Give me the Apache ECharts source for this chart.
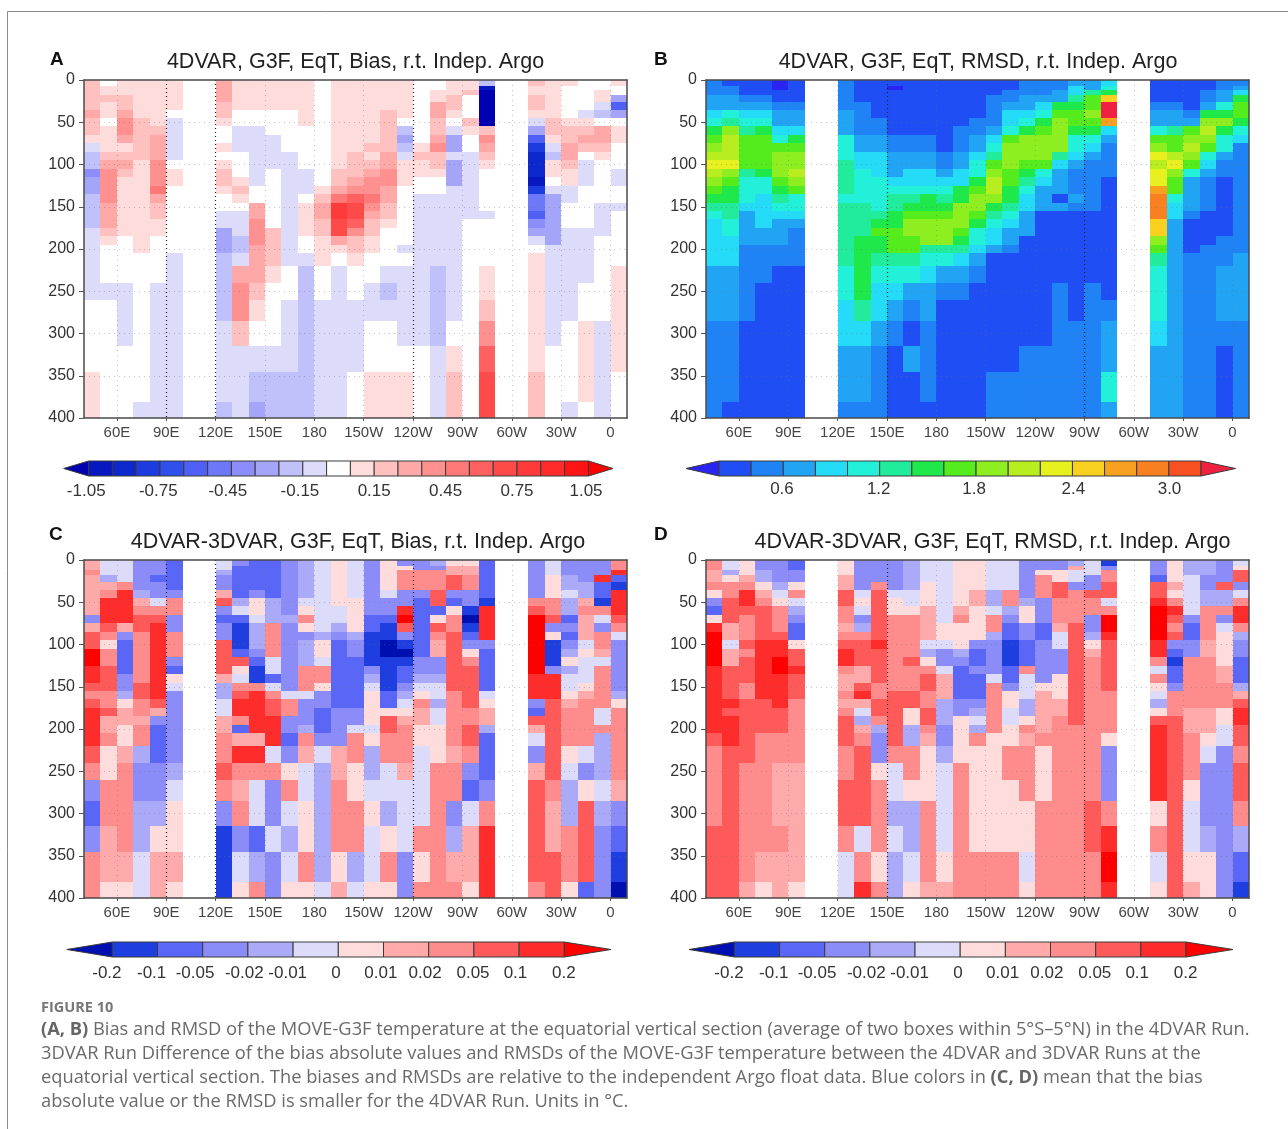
<!DOCTYPE html>
<html><head><meta charset="utf-8">
<style>html,body{margin:0;padding:0;background:#fff}#c{width:1288px;height:1129px}</style>
<script src="https://cdn.jsdelivr.net/npm/echarts@6/dist/echarts.min.js"></script>
</head><body><div id="c"></div>
<script>
// Longitude: 33 cells of 10 degrees from 40E (axis runs 40..370, 360 = 0). Depth cells in metres.
const lonStart = 40, lonStep = 10;
const lonTicks = [60,90,120,150,180,210,240,270,300,330,360];
const lonLabels = ['60E','90E','120E','150E','180','150W','120W','90W','60W','30W','0'];
const depthEdges = [0,7,12,18,26,35,45,55,65,75,85,95,105,115,125,135,145,155,165,175,185,195,205,220,240,260,285,315,346,381,400];

// Each string is one longitude column, top to bottom, one class code per depth cell. "." = no data.
// Panel A: 0 white, 1..9 A B positive classes, a..k negative classes (class x 0.1 degC)
const biasA = [
"22222 3 22 1 a bb d cc bbbb aaa aaa00011",
"0 11 2 11 0 111 2 3 4444 3 33 21 0 00a00000",
"111 22 3 44 3 12 3 2 1111111 00 00aaa000",
"111111 22222 11111111111 0000000a",
"1111111 2 333 444 5 3 22 11 00 00aaaaaa",
"11111 0 aaaaa 0 11 00000000 aaaaaaaa",
"..............................","..............................",
"3333 22 1 00 1 0 12 2 1 00 aa ccc bbbbaaab",
"11111 00 aaa 000 1 2 1 0 aaa bb a3442aaa",
"11111 00 aaaaaaa 00 33 444 3 33210abc",
"11111 000 aaaa 0000000 222 21000abb",
"11111 00000 aaaaaaaaaaaa a00aaabb",
"1111111 00000 aaa 0 1111 00 abbbbbbb",
"00000000000000 12 33 22 11 100aaaaa",
"111111111111 22 3 5 88 77 3 1 0aaaaaaa",
"1111111111 222 3 4 6 77 6 4 22 100aaa00",
"111111111 2 1 2 3 44 5 4 3 22 11 00aa0011",
"11111 22222 33 44 33 22 1 000 0aba0011",
"111111 0 b c b a 111 0000000 a 0aaaa011",
"000000000 121 1 00 aaaaaaa aaaaa000",
"00 11 33 22 3 4 22 1 00 aaaaaaa abbbbaaa",
"111 22 1 0 a cc a ccc aaaaaaaa aaaa0122",
"11 2 000 2 1 00 aaaaaaaa 0000 00000000",
"b j kkkkk 2 4 3 2 1 00000 a 0000 01124677",
"..............................","..............................",
"2 11 22 1 a c f h iii j h eef d c a 0 11111122",
"111111 22 1 a b 11 0 a cccccc a aaaaa000",
"1 00000 1 22 33 2 11 aa 000 aaa aaaa000a",
"00000 a 1 2 3 2 0 aaa 00000 aaa aa001110",
"00 11 a b 0 33 2 1 00000 aaaa 00 0000aaaa",
"1 00 c f c 0 11 000 aa 00 a 00000 01111100"
];
// Panel B: class 0..G, value = 0.1 + 0.2 x class
const rmsdB = [
"2223345789ABA98765444443332222",
"122335 69AAAB 98776655444333 2221",
"111234 5688886555 43333 22222 1111",
"111234 578888 755 4444 33 222 111111",
"0011233 458999 8765 4 33 3 22 1111111",
"111123347899A 9 855 4 3 2222 1111111",
"..............................","..............................",
"222223335556666 5 666666 6 55 44 33 2",
"111122223344555566 6677777 6 4 33 2",
"111111 22 33 444 5555 6 7 8 77 6 5 44 3 222",
"101111 11 22 333 4 5 66 77 888 6 5 4 3 2 111",
"11111111 22 33 44 5 6 7 8 99 88 6 5 3 2 1 3 1 1",
"11111111 22 33 44 5 77 8 999 6 5 4 33 222 1",
"1111111111 22 3 4 5 6 7 8 999 6 5 3 2 11111",
"1111111 222 33 44 77 999 8 7 6 4 3 2 11111",
"111111 22 33 4 55 7 8 99 8 7 55 4 3 2 111111",
"111 2222 3 4 5 6 8 9 AA 9 7 6 5 44 3 111111 22",
"11 22 3 44 5 8 999 88 77 6 5 4 33 2 111111 22",
"222 33 4 5 7 999 8 7 6 5 44 333 1111111 222",
"222 3 4 5 7 8 999 8 5 4 333 1111111111 222",
"22 33 7 8 9999 6 4 333 1 3 1111111 222222",
"3 44 6 7 88 7 55 4 3 222 3 2 111111111 2222",
"33 6 88 9 8 7 5 4 3 222222 1111111 222222",
"4 5 7 C G G D 4 3 2222 111111111111 2 33 5 3",
"..............................","..............................",
"1111 2 33 5 8 9 B A BB D EEE CC 9 8 6 555 4 333",
"1111 2 33 6 88 A B 9 88 5 44 333333333333",
"11111 2 3 8 9 A 9 8 5 3333 2 1111 22222222",
"11 22 3 7 9 A 9 8 5 4 3 2222 1111 222222222",
"22 33 5 7 9 7 55 3 22 1111111 222 333 2 111",
"2 3 4 7 88 7 5 4 2222222222222 3333 2222"
];
// Panels C, D: a..f negative classes (-0.005 .. -0.25), 1..6 positive classes (0.005 .. 0.25)
const diffBiasC = [
"22322222c244665543455554 3 c d c 33",
"aaab23555 4 3 1 33 444 33 4 22 3 11 33 22 1",
"aaaa3 5555 2 c dddd cc b 1 22 1 1 2 3333 2 1",
"ccccc b 2 3 44 333333 44 33 2 3 3 b cc bb aa",
"ccc d cc a 3 4 555555555 4 2 c ddd cc b 1 22",
"ddddd c 33 cc 333 c d 1 a ccccccc b a 11 2 1",
"..............................","..............................",
"aabcc 2 4 c d cc 4444 2 bb aa 22 3 3 4 3 c eee",
"c ddddd b a d eee d 4 1 a 3 4 55 3 d 2 5 3 2 3 c a 1",
"ddddd c 11 a bbb c d ee 3 55555 2 5 3 aa d b 3",
"dddddd bbb 3333 aa d a 3 44 555 a 3 cc a cc",
"cccccccc b cccccccc a 33 cc d c 1 3 a b a 1",
"bbbbbb a 1 3 1 c bbb 333 a ccc b 3 2 aa 11 3 1",
"aaaaaaaaaa b 11 a 33 1 cc ddd c a bbbbb a",
"1111111 aa b c dddddddd cccc 22 333 1 2",
"aaaaaa 1111 b cc dddddd cc a 33 11 33 b a",
"cccccccc dd eeee c b a 1111 a 1 bb a 1 aa 1",
"11111 a cc d ee ff eeee dd 1 44 33 aa b 1 3 1",
"c 1 333 cc 5 6 4 c e f e dd c b a 1 2 333 2 aaa cc",
"cc 333 c ddddddd cc b a 1 3 22 1 1 aaaa 3 1 3",
"b c 333 44 d 1 4 3 22 cc b aa b aa 111 333333",
"1 22 4 4 c d 1 33 4444444 333333 2 33 c b 2 3",
"1 22 33 cc e f e d c 1 3 44444 33 44 3 c d a 22 1",
"dddddd e 5555 c ddddd a 1 22 b ddd c 3 555",
"..............................","..............................",
"cccccc 3 4 6666666 555 c d 4 2 a c 2 4444 3",
"aaa 111 33 4 c 1 eee c 555 44444 44 3 22 44",
"ccc bb a bb d c d c b 1 b aa 1 2 3333 1 a bb 33 1",
"cccc bb 2 3 222 a 1 aaa 1 2 33333 a c 1 444 d",
"ccc 5 dd e 3 a c 33 2 a 33333 aa 3 bbb a b ccc",
"33 5 d e 555 4 3 a cccccc b 1 333333 2 c d e f"
];
const diffRmsdD = [
"33 22 3 1 c d 1 5 6666 55555555 4 3333 444",
"aa b 1 33 444 22 a 22 4444 5 4 55 5 4444444",
"111 2 3 55 4 333 4 3 444 33 444444 3333 3 2",
"cc bb 1 2 3 4444 5555555 4444 333333 2 1",
"cccc b a 1 333 4 55 66 5555 444 33 222 3 22",
"dd cc 1 3 a b c dd 1 44 5 444 333333 22222 1",
"..............................","..............................",
"111 22 44 33 2 3 4 55 3 22 3 2 3 444 33 44 3 aa",
"ccccc a 1 a c b 3 444 22 4 5 2 a b 2 3 4444 a 3 5",
"cccc 3 444444 5 4444 33 44 3 b cc 1 333 1 3",
"ccccc a 11 333333333 444444 3 aa b a bb",
"bbbbb aa 1 33333 4 333 44 11 bb 33 1 bb a 1",
"aaaa 111 2222 a b 1 3 44 33 44 3 2 111 333 2",
"aaaaaaaaa 11 a cc a 222 bbb cc b aaaa 1 2",
"1111111 2 3 111 b c dddd cc 1111 333333",
"11111 22 1111 c dd c ddd c b a b 3 11111 33",
"aaaaa bb a 33 b cccc a 333333 111111 33",
"aaaaa 33 b c dd eee dd c 11 aa 11 33 111 33",
"cccccc b 11 cc ddd 3 aaa bb 1 3 2 333 11 a 1",
"cc 1 333 ccc dd ccccc 1 22222 3 111 3333",
"cc 11 44 333 2 aa ccc 111 22 3333333333",
"b 2 aa c 3333 444444444444 33333 33 33",
"aaa cc 4 33 cc b 1 2 3333333333333 44 33",
"e c 33 44 a 3 66 5 444444 33333 1 ccc 3 5 6 5",
"..............................","..............................",
"ccc d 44 5 6666 55 3 a 3 1 a b 1 4 55555 1 3 a 1",
"1111 2 1 3 5 4 3 4 c d e dd c 333 4444444444",
"bbb aaaaa c dd cc 333333 222 333 1 aa 1 2",
"bbb cc bb 3333 22 333333 222 1 a ccc b 11",
"cccc 4 bb 3 c a 1111 22 333 11 aa ccccccc",
"a 1 44 c a 3 55 3 b cc ddd b 2 4 55 44 3 44 3 b d e"
];

// Colour classes: edges between classes, colours from the colour bars
const edgesA = [-1.05,-0.95,-0.85,-0.75,-0.65,-0.55,-0.45,-0.35,-0.25,-0.15,-0.05,0.05,0.15,0.25,0.35,0.45,0.55,0.65,0.75,0.85,0.95,1.05];
const colorsA = ['#0000b0','#0818c0','#0c28cc','#1c3ce0','#3050ec','#5060f4','#6c78f8','#8c8cfa','#a4a4f8','#c0c0fa','#dcdcfa','#ffffff','#ffdcdc','#ffc0c0','#ffa8a8','#ff9090','#ff7878','#ff6060','#ff4a4a','#ff3a3a','#ff2a2a','#ff1414','#ff0000'];
const edgesB = [0.2,0.4,0.6,0.8,1.0,1.2,1.4,1.6,1.8,2.0,2.2,2.4,2.6,2.8,3.0,3.2];
const colorsB = ['#2a24f0','#1f4ef5','#1f82f5','#22a4f5','#24dcf8','#22f0d8','#20ec9c','#1ee84a','#55ec1e','#8eee20','#b8ee20','#e8f020','#fad020','#f8a020','#f88020','#f85020','#f02040'];
const edgesD = [-0.2,-0.1,-0.05,-0.02,-0.01,0,0.01,0.02,0.05,0.1,0.2];
const colorsD = ['#0010b0','#1f3ee0','#5a66f6','#8c8cf8','#aaaaf8','#dcdcfa','#ffdcdc','#ffaaaa','#ff8c8c','#ff5a5a','#ff2c2c','#ff0000'];

// Colour bar labels: [position along the bar in cells, text]
const cbarTicksA = [[-0.1,'-1.05'],[2.93,'-0.75'],[5.85,'-0.45'],[8.88,'-0.15'],[12,'0.15'],[15,'0.45'],[18,'0.75'],[20.9,'1.05']];
const cbarTicksB = [[1.96,'0.6'],[4.97,'1.2'],[7.94,'1.8'],[11.03,'2.4'],[14.02,'3.0']];
const cbarTicksC = [[-0.12,'-0.2'],[0.87,'-0.1'],[1.83,'-0.05'],[2.92,'-0.02'],[3.88,'-0.01'],[4.95,'0'],[5.94,'0.01'],[6.92,'0.02'],[7.98,'0.05'],[8.92,'0.1'],[9.99,'0.2']];

const titles = ['4DVAR, G3F, EqT, Bias, r.t. Indep. Argo','4DVAR, G3F, EqT, RMSD, r.t. Indep. Argo','4DVAR-3DVAR, G3F, EqT, Bias, r.t. Indep. Argo','4DVAR-3DVAR, G3F, EqT, RMSD, r.t. Indep. Argo'];

function valA(ch){ if(ch==='A')return 1.0; if(ch==='B')return 1.1; const c=ch.charCodeAt(0); return c>=97 ? -(c-96)*0.1 : (c-48)*0.1; }
function valB(ch){ return 0.1+0.2*parseInt(ch,17); }
const diffAbs = {a:0.005,b:0.015,c:0.035,d:0.075,e:0.15,f:0.25};
const diffPos = {'1':0.005,'2':0.015,'3':0.035,'4':0.075,'5':0.15,'6':0.25};
function valD(ch){ return ch in diffAbs ? -diffAbs[ch] : diffPos[ch]; }
function colorOf(v,edges,colors){ let i=0; while(i<edges.length && edges[i]<=v) i++; return colors[i]; }

function cells(cols,decode){
  const out=[];
  cols.forEach((raw,ci)=>{
    const s=raw.replace(/\s/g,'');
    for(let r=0;r<depthEdges.length-1;r++){
      const ch=s[r];
      if(ch===undefined||ch==='.')continue;
      out.push([lonStart+ci*lonStep,lonStart+(ci+1)*lonStep,depthEdges[r],depthEdges[r+1],decode(ch)]);
    }
  });
  return out;
}

const FONT='"Liberation Sans",Arial,sans-serif';
const panels=[
 {d:biasA,dec:valA,e:edgesA,c:colorsA,left:84,top:80,dark:[90,120,240],t:titles[0],tx:355.5,ty:62,
  bar:{tip0:63.7,r0:88.6,r1:588.4,tip1:613,y:461,ticks:cbarTicksA,m:7}},
 {d:rmsdB,dec:valB,e:edgesB,c:colorsB,left:706,top:80,dark:[150,270],t:titles[1],tx:978,ty:62,
  bar:{tip0:686,r0:719,r1:1201,tip1:1235.5,y:461,ticks:cbarTicksB,m:5}},
 {d:diffBiasC,dec:valD,e:edgesD,c:colorsD,left:84,top:560,dark:[90,120,240],t:titles[2],tx:358,ty:542,
  bar:{tip0:66.8,r0:112.3,r1:564.3,tip1:611,y:942,ticks:cbarTicksC,m:8}},
 {d:diffRmsdD,dec:valD,e:edgesD,c:colorsD,left:706,top:560,dark:[150,270],t:titles[3],tx:992.5,ty:542,
  bar:{tip0:689,r0:734.4,r1:1186,tip1:1233,y:942,ticks:cbarTicksC,m:8}}
];

const grid=[],xAxis=[],yAxis=[],series=[],title=[];
const FRAME='#4a4a4a';
panels.forEach((p,i)=>{
  const gi=grid.length;
  grid.push({left:p.left,top:p.top,width:543,height:338,show:false});
  xAxis.push({type:'value',gridIndex:gi,min:40,max:370,z:6,
    axisLine:{show:true,onZero:false,lineStyle:{color:FRAME,width:1.5}},
    axisTick:{show:true,length:3,lineStyle:{color:'#555'},customValues:lonTicks},
    splitLine:{show:false},
    axisLabel:{customValues:lonTicks,color:'#444',fontFamily:'"Liberation Sans Narrow","Liberation Sans",sans-serif',fontSize:15,margin:7,
      formatter:v=>lonLabels[lonTicks.indexOf(v)]}});
  yAxis.push({type:'value',gridIndex:gi,min:0,max:400,interval:50,inverse:true,z:6,
    axisLine:{show:true,onZero:false,lineStyle:{color:FRAME,width:1.5}},
    axisTick:{show:true,length:5,lineStyle:{color:'#555'}},
    splitLine:{show:false},
    axisLabel:{color:'#333',fontFamily:FONT,fontSize:16,margin:9}});
  xAxis.push({type:'value',gridIndex:gi,min:40,max:370,position:'top',z:6,
    axisLine:{show:true,onZero:false,lineStyle:{color:FRAME,width:1.5}},axisTick:{show:false},axisLabel:{show:false},splitLine:{show:false}});
  yAxis.push({type:'value',gridIndex:gi,min:0,max:400,position:'right',inverse:true,z:6,
    axisLine:{show:true,onZero:false,lineStyle:{color:FRAME,width:1.5}},axisTick:{show:false},axisLabel:{show:false},splitLine:{show:false}});
  const xi=xAxis.length-2, yi=yAxis.length-2;
  const lines=[];
  lonTicks.forEach(v=>lines.push({xAxis:v,lineStyle:p.dark.includes(v)
    ?{color:'#222',type:[1,3],width:1.2}:{color:'rgba(110,110,110,0.4)',type:[1,4],width:1}}));
  [50,100,150,200,250,300,350].forEach(v=>lines.push({yAxis:v,lineStyle:{color:'rgba(110,110,110,0.4)',type:[1,4],width:1}}));
  series.push({type:'custom',xAxisIndex:xi,yAxisIndex:yi,data:cells(p.d,p.dec),silent:true,clip:false,
    encode:{x:[0,1],y:[2,3]},z:2,
    renderItem:(params,api)=>{
      const a=api.coord([api.value(0),api.value(2)]),b=api.coord([api.value(1),api.value(3)]);
      const x0=Math.round(a[0]),y0=Math.round(a[1]),x1=Math.round(b[0]),y1=Math.round(b[1]);
      return {type:'rect',shape:{x:x0,y:y0,width:x1-x0,height:y1-y0},
        style:{fill:colorOf(api.value(4),p.e,p.c),stroke:null}};
    },
    markLine:{silent:true,symbol:'none',animation:false,label:{show:false},data:lines,z:5}});
  title.push({text:p.t,left:p.tx,top:p.ty,padding:0,textAlign:'center',textVerticalAlign:'middle',
    textStyle:{fontFamily:FONT,fontWeight:'normal',fontSize:21.5,color:'#222'}});

  const b=p.bar, n=p.e.length-1, cell=(b.r1-b.r0)/n;
  const bg=grid.length;
  grid.push({left:b.tip0,top:b.y,width:b.tip1-b.tip0,height:15,show:false});
  const vals=b.ticks.map(t=>t[0]);
  const min=-(b.r0-b.tip0)/cell,max=n+(b.tip1-b.r1)/cell;
  xAxis.push({type:'value',gridIndex:bg,min,max,
    axisLine:{show:false},axisTick:{show:false},splitLine:{show:false},
    axisLabel:{customValues:vals,color:'#333',fontFamily:FONT,fontSize:17,margin:b.m,
      formatter:v=>{const t=b.ticks.find(t=>t[0]===v);return t?t[1]:'';}}});
  yAxis.push({type:'value',gridIndex:bg,min:0,max:1,show:false});
  const segs=[];
  for(let k=0;k<p.c.length;k++) segs.push([k]);
  series.push({type:'custom',xAxisIndex:xAxis.length-1,yAxisIndex:yAxis.length-1,data:segs,silent:true,clip:false,z:2,
    encode:{x:0},
    renderItem:(params,api)=>{
      const k=api.value(0),col=p.c[k];
      let pts;
      if(k===0) pts=[[min,0.5],[0,1],[0,0]];
      else if(k===p.c.length-1) pts=[[n,1],[max,0.5],[n,0]];
      else pts=[[k-1,0],[k,0],[k,1],[k-1,1]];
      return {type:'polygon',shape:{points:pts.map(q=>api.coord(q))},style:{fill:col,stroke:'#3a3a3a',lineWidth:1}};
    }});
});

[['A',50,60],['B',654,60],['C',49,535],['D',654,535]].forEach(l=>title.push({text:l[0],left:l[1],top:l[2],padding:0,textVerticalAlign:'middle',
  textStyle:{fontFamily:FONT,fontWeight:'bold',fontSize:19,color:'#111'}}));

const CAP='"Open Sans",Lato,sans-serif';
const capLines=[
 '{b|(A, B)} Bias and RMSD of the MOVE-G3F temperature at the equatorial vertical section (average of two boxes within 5°S–5°N) in the 4DVAR Run.',
 '3DVAR Run Difference of the bias absolute values and RMSDs of the MOVE-G3F temperature between the 4DVAR and 3DVAR Runs at the',
 'equatorial vertical section. The biases and RMSDs are relative to the independent Argo float data. Blue colors in {b|(C, D)} mean that the bias',
 'absolute value or the RMSD is smaller for the 4DVAR Run. Units in °C.'
];
const graphic=[
 {type:'polyline',shape:{points:[[7.5,1129],[7.5,11.5],[1288,11.5]]},style:{fill:null,stroke:'#8a8a8a',lineWidth:1}},
 {type:'text',left:41,top:1000,style:{text:'FIGURE 10',fontFamily:CAP,fontSize:14.5,fontWeight:'bold',fill:'#777'}}
];
capLines.forEach((t,i)=>graphic.push({type:'text',left:41,top:1021+24*i,style:{text:t,fontFamily:CAP,fontSize:18.3,fill:'#6a6a6a',
  rich:{b:{fontFamily:CAP,fontSize:18.3,fontWeight:'bold',fill:'#666'}}}}));

const chart=echarts.init(document.getElementById('c'),null,{renderer:'canvas',width:1288,height:1129});
chart.setOption({animation:false,backgroundColor:'#fff',title,grid,xAxis,yAxis,series,graphic});
</script></body></html>
